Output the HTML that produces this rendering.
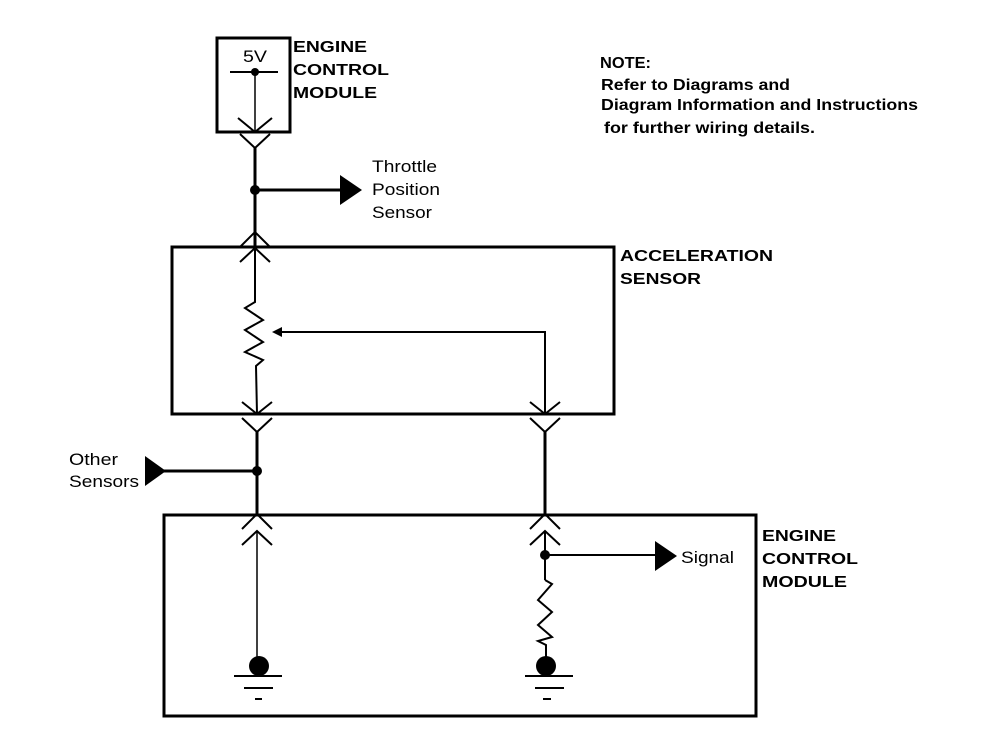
<!DOCTYPE html>
<html><head><style>body{margin:0;background:#fff}svg{display:block}</style></head><body>
<svg width="992" height="754" viewBox="0 0 992 754" xmlns="http://www.w3.org/2000/svg" font-family="Liberation Sans, sans-serif">
<g fill="none" stroke="#000">
<rect x="217" y="38" width="73" height="94" stroke-width="3"/>
<line x1="230" y1="72" x2="278" y2="72" stroke-width="2"/>
<line x1="255" y1="72" x2="255" y2="132" stroke-width="1.5"/>
<polyline points="238,118 255,132 272,118" stroke-width="2"/>
<polyline points="240,134 255,148 270,134" stroke-width="2"/>
<line x1="255" y1="148" x2="255" y2="247" stroke-width="3"/>
<line x1="255" y1="190" x2="340" y2="190" stroke-width="3"/>
<polyline points="240,247 255,232 270,247" stroke-width="2"/>
<rect x="172" y="247" width="442" height="167" stroke-width="3"/>
<polyline points="240,262 255,248 270,262" stroke-width="2"/>
<polyline points="255,248 255,302 245,308 263,320 245,330 263,342 245,352 263,360 256,366 257,414" stroke-width="2"/>
<polyline points="280,332 545,332 545,414" stroke-width="2"/>
<polyline points="242,402 257,414 272,402" stroke-width="2"/>
<polyline points="530,402 545,414 560,402" stroke-width="2"/>
<polyline points="242,418 257,432 272,418" stroke-width="2"/>
<polyline points="530,418 545,432 560,418" stroke-width="2"/>
<line x1="257" y1="432" x2="257" y2="515" stroke-width="3"/>
<line x1="545" y1="432" x2="545" y2="515" stroke-width="3"/>
<line x1="160" y1="471" x2="257" y2="471" stroke-width="3"/>
<polyline points="242,529 257,514 272,529" stroke-width="2"/>
<polyline points="530,529 545,514 560,529" stroke-width="2"/>
<rect x="164" y="515" width="592" height="201" stroke-width="3"/>
<polyline points="242,545 257,531 272,545" stroke-width="2"/>
<polyline points="530,545 545,531 560,545" stroke-width="2"/>
<line x1="257" y1="531" x2="257" y2="666" stroke-width="1.5"/>
<line x1="545" y1="531" x2="545" y2="580" stroke-width="2"/>
<line x1="545" y1="555" x2="655" y2="555" stroke-width="2"/>
<polyline points="545,580 552,584 538,600 552,612 538,625 552,637 538,641 546,645 546,666" stroke-width="2"/>
<line x1="234" y1="676" x2="282" y2="676" stroke-width="2"/>
<line x1="244" y1="688" x2="273" y2="688" stroke-width="2"/>
<line x1="255" y1="699" x2="262" y2="699" stroke-width="2"/>
<line x1="525" y1="676" x2="573" y2="676" stroke-width="2"/>
<line x1="535" y1="688" x2="564" y2="688" stroke-width="2"/>
<line x1="543" y1="699" x2="551" y2="699" stroke-width="2"/>
</g>
<g fill="#000">
<circle cx="255" cy="72" r="4"/>
<circle cx="255" cy="190" r="5"/>
<circle cx="257" cy="471" r="5"/>
<circle cx="545" cy="555" r="5"/>
<circle cx="259" cy="666" r="10"/>
<circle cx="546" cy="666" r="10"/>
<polygon points="340,175 362,190 340,205"/>
<polygon points="145,456 166,471 145,486"/>
<polygon points="655,541 677,556 655,571"/>
<polygon points="272,332 282,327 282,337"/>
</g>
<g font-size="17" lengthAdjust="spacingAndGlyphs">
<text x="243" y="62" textLength="24" lengthAdjust="spacingAndGlyphs">5V</text>
<text x="372" y="172" textLength="65" lengthAdjust="spacingAndGlyphs">Throttle</text>
<text x="372" y="195" textLength="68" lengthAdjust="spacingAndGlyphs">Position</text>
<text x="372" y="218" textLength="60" lengthAdjust="spacingAndGlyphs">Sensor</text>
<text x="69" y="465" textLength="49" lengthAdjust="spacingAndGlyphs">Other</text>
<text x="69" y="487" textLength="70" lengthAdjust="spacingAndGlyphs">Sensors</text>
<text x="681" y="563" textLength="53" lengthAdjust="spacingAndGlyphs">Signal</text>
</g>
<g font-size="16" font-weight="bold">
<text x="293" y="52" textLength="74" lengthAdjust="spacingAndGlyphs">ENGINE</text>
<text x="293" y="75" textLength="96" lengthAdjust="spacingAndGlyphs">CONTROL</text>
<text x="293" y="98" textLength="84" lengthAdjust="spacingAndGlyphs">MODULE</text>
<text x="620" y="261" textLength="153" lengthAdjust="spacingAndGlyphs">ACCELERATION</text>
<text x="620" y="284" textLength="81" lengthAdjust="spacingAndGlyphs">SENSOR</text>
<text x="762" y="541" textLength="74" lengthAdjust="spacingAndGlyphs">ENGINE</text>
<text x="762" y="564" textLength="96" lengthAdjust="spacingAndGlyphs">CONTROL</text>
<text x="762" y="587" textLength="85" lengthAdjust="spacingAndGlyphs">MODULE</text>
<text x="600" y="68" textLength="51" lengthAdjust="spacingAndGlyphs">NOTE:</text>
<text x="601" y="90" textLength="189" lengthAdjust="spacingAndGlyphs">Refer to Diagrams and</text>
<text x="601" y="110" textLength="317" lengthAdjust="spacingAndGlyphs">Diagram Information and Instructions</text>
<text x="604" y="133" textLength="211" lengthAdjust="spacingAndGlyphs">for further wiring details.</text>
</g>
</svg>
</body></html>
